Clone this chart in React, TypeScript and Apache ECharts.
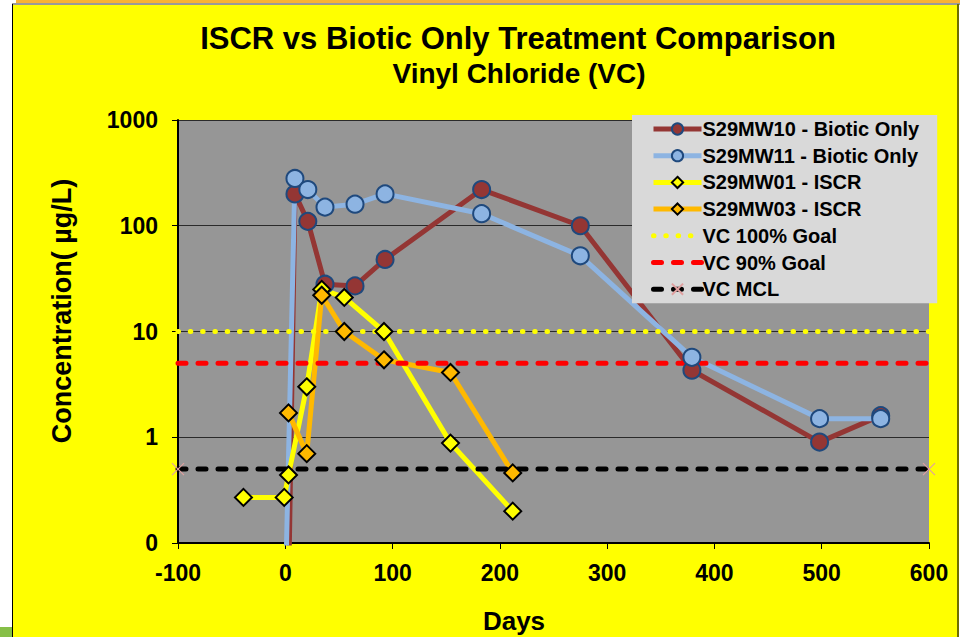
import React, { useEffect, useRef } from "react";
import * as echarts from "echarts";

const FONT = "'Liberation Sans', Arial, sans-serif";

// Days and concentrations (µg/L)
const daysMW10 = [3, 9, 21, 37, 65, 93, 183, 275, 379, 498, 555];
const valsMW10 = [0.03, 200, 110, 28, 27, 48, 220, 100, 4.3, 0.9, 1.6];
const daysMW11 = [0, 9, 21, 37, 65, 93, 183, 275, 379, 498, 555];
const valsMW11 = [0.03, 280, 220, 150, 160, 200, 130, 52, 5.7, 1.5, 1.5];
const daysMW01 = [-39, -1, 3, 20, 34, 55, 92, 154, 212];
const valsMW01 = [0.27, 0.27, 0.44, 3.0, 25, 21, 10, 0.88, 0.2];
const daysMW03 = [3, 20, 34, 55, 92, 154, 212];
const valsMW03 = [1.7, 0.7, 22, 10, 5.4, 4.1, 0.46];
const goalDays = [-100, 600];
const goal100 = [10, 10];
const goal90 = [5, 5];
const mclVals = [0.5, 0.5];

const seriesNames = [
  "S29MW10 - Biotic Only",
  "S29MW11 - Biotic Only",
  "S29MW01 - ISCR",
  "S29MW03 - ISCR",
  "VC 100% Goal",
  "VC 90% Goal",
  "VC MCL",
];

const Y_MIN = 0.1;

function toData(xs: number[], ys: number[]) {
  return xs.map((x, i) =>
    ys[i] < Y_MIN ? { value: [x, ys[i]], symbol: "none" } : [x, ys[i]]
  );
}

export default function App() {
  const ref = useRef<HTMLDivElement>(null);

  useEffect(() => {
    if (!ref.current) return;
    const chart = echarts.init(ref.current, undefined, { renderer: "svg" });

    const circleSeries = (name: string, xs: number[], ys: number[], color: string) => ({
      type: "line",
      name,
      data: toData(xs, ys),
      symbol: "circle",
      symbolSize: 17,
      clip: true,
      lineStyle: { color, width: 5 },
      itemStyle: { color, borderColor: "#1F497D", borderWidth: 2 },
      emphasis: { disabled: true },
    });
    const diamondSeries = (name: string, xs: number[], ys: number[], color: string) => ({
      type: "line",
      name,
      data: toData(xs, ys),
      symbol: "diamond",
      symbolSize: 17,
      clip: true,
      lineStyle: { color, width: 5 },
      itemStyle: { color, borderColor: "#000", borderWidth: 2 },
      emphasis: { disabled: true },
    });

    const textEl = (text: string, x: number, y: number, size: number, rotation = 0) => ({
      type: "text",
      x,
      y,
      rotation,
      silent: true,
      style: {
        text,
        font: `bold ${size}px ${FONT}`,
        fill: "#000",
        align: "center",
        verticalAlign: "middle",
        textAlign: "center",
        textVerticalAlign: "middle",
      },
    });

    const option: any = {
      animation: false,
      backgroundColor: "transparent",
      textStyle: { fontFamily: FONT },
      grid: {
        left: 178,
        right: 36,
        top: 120,
        bottom: 94,
        show: true,
        backgroundColor: "#969696",
        borderWidth: 0,
        containLabel: false,
        outerBoundsMode: "none",
      },
      xAxis: {
        type: "value",
        min: -100,
        max: 600,
        interval: 100,
        axisLine: { show: true, onZero: false, lineStyle: { color: "#000", width: 2 } },
        axisTick: { show: true, inside: false, length: 6, lineStyle: { color: "#000", width: 1 } },
        splitLine: { show: false },
        axisLabel: {
          margin: 18,
          fontSize: 23,
          fontWeight: "bold",
          color: "#000",
          fontFamily: FONT,
          formatter: (v: number) => String(Math.round(v)),
        },
      },
      yAxis: {
        type: "log",
        logBase: 10,
        min: 0.1,
        max: 1000,
        axisLine: { show: true, onZero: false, lineStyle: { color: "#000", width: 2 } },
        axisTick: { show: true, inside: false, length: 6, lineStyle: { color: "#000", width: 1 } },
        minorTick: { show: false },
        splitLine: { show: true, lineStyle: { color: "#2A2A2A", width: 1 } },
        axisLabel: {
          margin: 20,
          fontSize: 23,
          fontWeight: "bold",
          color: "#000",
          fontFamily: FONT,
          formatter: (v: number) => (v < 1 ? "0" : String(Math.round(v))),
        },
      },
      legend: {
        orient: "vertical",
        left: 632,
        top: 115,
        padding: [4, 18, 4, 19],
        backgroundColor: "#D9D9D9",
        borderWidth: 0,
        itemWidth: 48,
        itemHeight: 14,
        itemGap: 6.7,
        selectedMode: false,
        lineStyle: { width: "inherit" },
        textStyle: {
          fontSize: 20,
          fontWeight: "bold",
          color: "#000",
          fontFamily: FONT,
          lineHeight: 20,
          padding: [0, 0, 0, -4],
        },
        data: seriesNames,
      },
      graphic: [
        textEl("ISCR vs Biotic Only Treatment Comparison", 518, 38, 31),
        textEl("Vinyl Chloride (VC)", 519, 73, 28),
        textEl("Concentration( µg/L)", 62, 311, 27, Math.PI / 2),
        textEl("Days", 514, 621, 26),
      ],
      series: [
        circleSeries(seriesNames[0], daysMW10, valsMW10, "#943634"),
        circleSeries(seriesNames[1], daysMW11, valsMW11, "#8DB4E2"),
        diamondSeries(seriesNames[2], daysMW01, valsMW01, "#FFFF00"),
        diamondSeries(seriesNames[3], daysMW03, valsMW03, "#FFB900"),
        {
          type: "line",
          name: seriesNames[4],
          data: goalDays.map((d, i) => [d, goal100[i]]),
          symbol: "none",
          lineStyle: { color: "#FFFF00", width: 5, type: [0.5, 11.8], cap: "round" },
          itemStyle: { color: "rgba(0,0,0,0)", borderWidth: 0 },
          emphasis: { disabled: true },
        },
        {
          type: "line",
          name: seriesNames[5],
          data: goalDays.map((d, i) => [d, goal90[i]]),
          symbol: "none",
          lineStyle: { color: "#FF0000", width: 5, type: [8, 12], cap: "round" },
          itemStyle: { color: "rgba(0,0,0,0)", borderWidth: 0 },
          emphasis: { disabled: true },
        },
        {
          type: "line",
          name: seriesNames[6],
          data: goalDays.map((d, i) => [d, mclVals[i]]),
          symbol: "path://M0 0L10 10M10 0L0 10",
          symbolSize: 12,
          clip: false,
          lineStyle: { color: "#000000", width: 5, type: [8, 12], cap: "round" },
          itemStyle: { color: "#E8A6A6", borderColor: "#E0A0A0", borderWidth: 1.2 },
          emphasis: { disabled: true },
        },
      ],
    };

    chart.setOption(option);
    return () => chart.dispose();
  }, []);

  return (
    <div
      style={{
        position: "fixed",
        left: 0,
        top: 0,
        width: 965,
        height: 637,
        background: "#FFFFFF",
        overflow: "hidden",
      }}
    >
      <div style={{ position: "absolute", left: 16, top: 0, width: 944, height: 3, background: "#F9B233" }} />
      <div style={{ position: "absolute", left: 12, top: 3, width: 948, height: 2, background: "#9A9A9A" }} />
      <div style={{ position: "absolute", left: 12, top: 5, width: 946, height: 632, background: "#FFFF00" }} />
      <div style={{ position: "absolute", left: 11.5, top: 4, width: 1.5, height: 633, background: "#000" }} />
      <div style={{ position: "absolute", left: 957, top: 4, width: 2, height: 633, background: "#6E6E00" }} />
      <div style={{ position: "absolute", left: 0, top: 627, width: 11.5, height: 10, background: "#86BF47" }} />
      <div ref={ref} style={{ position: "absolute", left: 0, top: 0, width: 965, height: 637 }} />
    </div>
  );
}
